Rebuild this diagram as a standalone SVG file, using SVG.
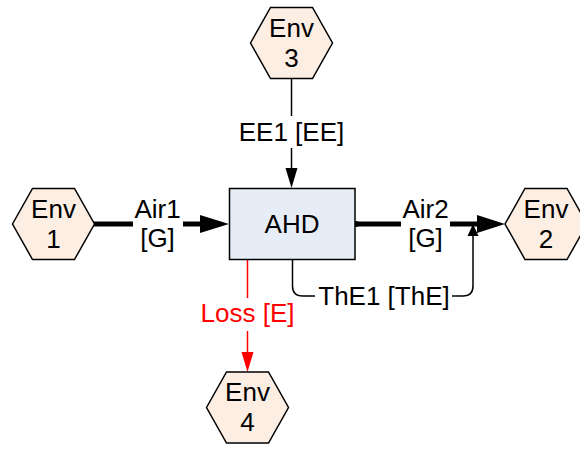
<svg xmlns="http://www.w3.org/2000/svg" width="580" height="449" viewBox="0 0 580 449">
<defs>
<style>
.hex{fill:#FCEEE3;stroke:#000;stroke-width:1.5}
.box{fill:#E7EDF7;stroke:#000;stroke-width:1.5}
text{font-family:"Liberation Sans",Arial,sans-serif;font-size:26px;fill:#000;text-anchor:middle}
.red{fill:#FF0000}
.thick{stroke:#000;stroke-width:5;fill:none}
.thin{stroke:#000;stroke-width:1.5;fill:none}
.redl{stroke:#FF0000;stroke-width:1.5;fill:none}
.bg{fill:#fff}
</style>
<polygon id="hexshape" points="-41,0 -21,-35.5 21,-35.5 41,0 21,35.5 -21,35.5"/>
</defs>
<g id="connectors">
<line class="thick" x1="94" y1="224" x2="203" y2="224"/>
<path d="M200,215 L229,224 L200,233 Z" fill="#000"/>
<rect class="bg" x="133" y="196" width="50" height="58"/>
<text x="157.5" y="218">Air1</text>
<text x="157.5" y="247">[G]</text>

<line class="thick" x1="355" y1="224" x2="480" y2="224"/>
<circle cx="356" cy="224" r="3" fill="#000"/>
<path d="M477,215 L505,224 L477,233 Z" fill="#000"/>
<rect class="bg" x="401" y="196" width="49" height="58"/>
<text x="425.5" y="218">Air2</text>
<text x="425.5" y="247">[G]</text>

<path class="thin" d="M292.5,260 L292.5,286 Q292.5,296 302.5,296 L463,296 Q473,296 473,286 L473,236"/>
<path d="M467.5,236 L473,224 L478.5,236 Z" fill="#000"/>
<rect class="bg" x="315" y="282" width="137" height="28"/>
<text x="384" y="305">ThE1 [ThE]</text>

<line class="thin" x1="291.5" y1="79" x2="291.5" y2="170"/>
<path d="M285.5,168 L291.5,188 L297.5,168 Z" fill="#000"/>
<rect class="bg" x="236" y="116" width="111" height="32"/>
<text x="291.5" y="141">EE1 [EE]</text>

<line class="redl" x1="247.5" y1="260" x2="247.5" y2="354"/>
<path d="M241.5,352 L247.5,372 L253.5,352 Z" fill="#FF0000"/>
<rect class="bg" x="197" y="298" width="100" height="33"/>
<text class="red" x="247.5" y="322">Loss [E]</text>
</g>
<g id="env1">
<use href="#hexshape" class="hex" x="53.5" y="224"/>
<text x="53.5" y="217.5">Env</text>
<text x="53.5" y="247.5">1</text>
</g>
<g id="env2">
<use href="#hexshape" class="hex" x="546" y="224"/>
<text x="546" y="217.5">Env</text>
<text x="546" y="247.5">2</text>
</g>
<g id="env3">
<use href="#hexshape" class="hex" x="291.5" y="43"/>
<text x="291.5" y="36.5">Env</text>
<text x="291.5" y="66.5">3</text>
</g>
<g id="env4">
<use href="#hexshape" class="hex" x="247.5" y="407.5"/>
<text x="247.5" y="401">Env</text>
<text x="247.5" y="431">4</text>
</g>
<g id="ahd">
<rect class="box" x="229.5" y="188.5" width="125.5" height="71"/>
<text x="292" y="233">AHD</text>
</g>
</svg>
